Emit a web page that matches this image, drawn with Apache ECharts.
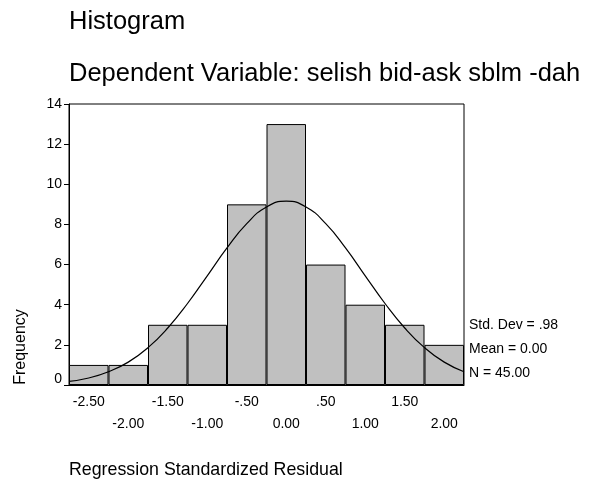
<!DOCTYPE html>
<html>
<head>
<meta charset="utf-8">
<script src="https://cdn.jsdelivr.net/npm/echarts@6/dist/echarts.min.js"></script>
<style>
  html, body { margin: 0; padding: 0; background: #fff; }
  #main { width: 597px; height: 479px; }
</style>
</head>
<body>
<div id="main"></div>
<script>
// histogram bins, centred on the tick values, each .50 wide
var binLabels = ['-2.50', '-2.00', '-1.50', '-1.00', '-.50', '0.00', '.50', '1.00', '1.50', '2.00'];
var frequency = [1, 1, 3, 3, 9, 13, 6, 4, 3, 2];

// normal curve, every .25
var curveX = [-2.75, -2.5, -2.25, -2, -1.75, -1.5, -1.25, -1, -0.75, -0.5, -0.25,
              0, 0.25, 0.5, 0.75, 1, 1.25, 1.5, 1.75, 2, 2.25];
var curveY = [0.18, 0.35, 0.66, 1.14, 1.86, 2.84, 4.06, 5.44, 6.83, 8.04, 8.87,
              9.16, 8.87, 8.04, 6.83, 5.44, 4.06, 2.84, 1.86, 1.14, 0.66];

var statLines = ['Std. Dev = .98', 'Mean = 0.00', 'N = 45.00'];

var font = '"Liberation Sans", Arial, sans-serif';

var curveData = [];
for (var i = 0; i < curveX.length; i++) {
    curveData.push([curveX[i], curveY[i]]);
}

var myChart = echarts.init(document.getElementById('main'));

var graphics = [
    { type: 'text', left: 69, top: 9, style: { text: 'Histogram', font: '25.5px ' + font, fill: '#000' } },
    { type: 'text', left: 69, top: 61, style: { text: 'Dependent Variable: selish bid-ask sblm -dah', font: '25.5px ' + font, fill: '#000' } },
    { type: 'text', x: 21, y: 347, rotation: Math.PI / 2,
      style: { text: 'Frequency', font: '16px ' + font, fill: '#000', align: 'center', verticalAlign: 'middle' } },
    { type: 'text', left: 69, top: 461, style: { text: 'Regression Standardized Residual', font: '17.8px ' + font, fill: '#000' } }
];
var statY = [325, 349, 373];
statLines.forEach(function (s, k) {
    graphics.push({ type: 'text', x: 469, y: statY[k],
        style: { text: s, font: '14px ' + font, fill: '#000', verticalAlign: 'middle' } });
});

var option = {
    backgroundColor: '#fff',
    animation: false,
    textStyle: { fontFamily: font },
    grid: {
        left: 69, top: 104, width: 395, height: 281,
        show: true, borderColor: '#000', borderWidth: 1, backgroundColor: 'transparent'
    },
    xAxis: [{
        type: 'category',
        data: binLabels,
        boundaryGap: true,
        axisLine: { lineStyle: { color: '#000', width: 1 } },
        axisTick: { alignWithLabel: true, length: 4, lineStyle: { color: '#000' } },
        axisLabel: {
            interval: 0,
            margin: 6,
            color: '#000',
            fontSize: 14,
            lineHeight: 22,
            formatter: function (v, idx) {
                return idx % 2 ? '\n' + v : v;
            }
        },
        splitLine: { show: false }
    }, {
        type: 'value',
        min: -2.75,
        max: 2.25,
        show: false,
        splitLine: { show: false }
    }],
    yAxis: {
        type: 'value',
        min: 0,
        max: 14,
        interval: 2,
        axisLine: { show: true, onZero: false, lineStyle: { color: '#000', width: 1 } },
        axisTick: { show: true, length: 5, lineStyle: { color: '#000' } },
        axisLabel: {
            margin: 7,
            color: '#000',
            fontSize: 14,
            formatter: function (v) {
                return v === 0 ? '{z|0}' : String(v);
            },
            rich: { z: { fontSize: 14, color: '#000', padding: [0, 0, 12, 0] } }
        },
        splitLine: { show: false }
    },
    graphic: graphics,
    series: [{
        type: 'bar',
        data: frequency,
        barCategoryGap: 0,
        itemStyle: { color: '#c0c0c0', borderColor: '#000', borderWidth: 1 }
    }, {
        type: 'line',
        xAxisIndex: 1,
        data: curveData,
        smooth: true,
        symbol: 'none',
        lineStyle: { color: '#000', width: 1.2 },
        z: 5
    }]
};

myChart.setOption(option);
</script>
</body>
</html>
